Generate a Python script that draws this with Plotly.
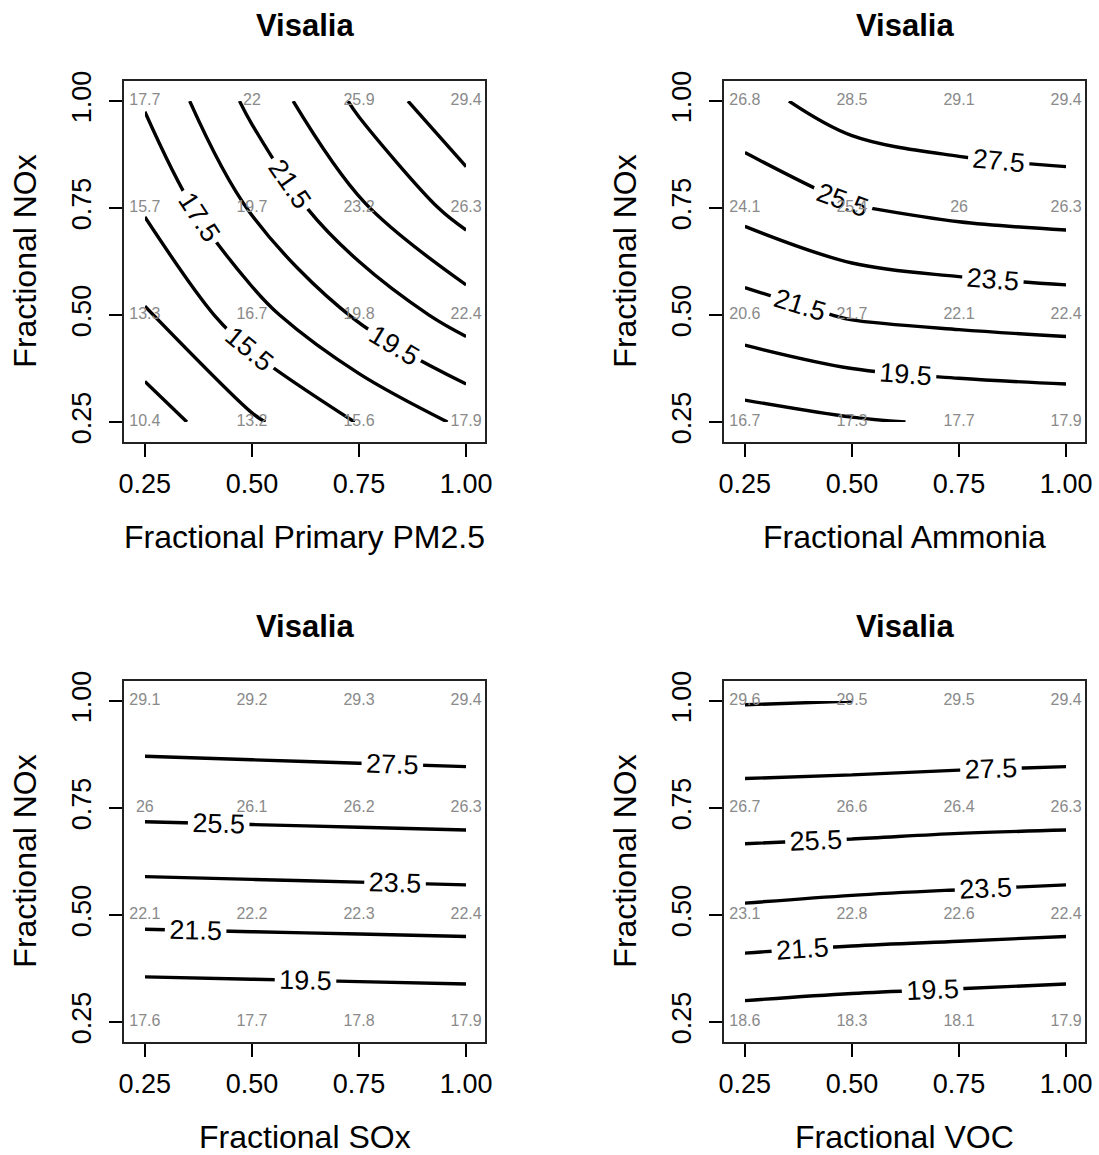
import plotly.graph_objects as go

# Emission-reduction fractions on each axis
fractions = [0.25, 0.50, 0.75, 1.00]
tick_labels = ["0.25", "0.50", "0.75", "1.00"]

city = "Visalia"
y_label = "Fractional NOx"

# PM2.5 design values; rows are NOx fraction 0.25 -> 1.00, columns the x-axis fraction
pm_primary = [
    [10.4, 13.2, 15.6, 17.9],
    [13.3, 16.7, 19.8, 22.4],
    [15.7, 19.7, 23.2, 26.3],
    [17.7, 22.0, 25.9, 29.4],
]
pm_ammonia = [
    [16.7, 17.3, 17.7, 17.9],
    [20.6, 21.7, 22.1, 22.4],
    [24.1, 25.4, 26.0, 26.3],
    [26.8, 28.5, 29.1, 29.4],
]
pm_sox = [
    [17.6, 17.7, 17.8, 17.9],
    [22.1, 22.2, 22.3, 22.4],
    [26.0, 26.1, 26.2, 26.3],
    [29.1, 29.2, 29.3, 29.4],
]
pm_voc = [
    [18.6, 18.3, 18.1, 17.9],
    [23.1, 22.8, 22.6, 22.4],
    [26.7, 26.6, 26.4, 26.3],
    [29.6, 29.5, 29.5, 29.4],
]

x_labels = [
    "Fractional Primary PM2.5",
    "Fractional Ammonia",
    "Fractional SOx",
    "Fractional VOC",
]
panels = [pm_primary, pm_ammonia, pm_sox, pm_voc]

# contour levels
level_start, level_end, level_step = 11.5, 29.5, 2.0

FONT = "Liberation Sans, Arial, sans-serif"
W, H = 1099, 1155

# plot boxes in pixels: (left, right, top, bottom)
boxes = [
    (124.3, 485.0, 81.0, 441.7),
    (724.3, 1085.0, 81.0, 441.7),
    (124.3, 485.0, 681.0, 1041.7),
    (724.3, 1085.0, 681.0, 1041.7),
]
x_range = [0.202, 1.044]
y_range = [0.204, 1.047]

fig = go.Figure()
annotations = []

for i, (z, xl, box) in enumerate(zip(panels, x_labels, boxes)):
    n = i + 1
    xa = "x" if n == 1 else f"x{n}"
    ya = "y" if n == 1 else f"y{n}"
    left, right, top, bottom = box

    # value printed at every grid node
    gx, gy, gt = [], [], []
    for r, yv in enumerate(fractions):
        for c, xv in enumerate(fractions):
            gx.append(xv)
            gy.append(yv)
            gt.append(f"{z[r][c]:g}")
    fig.add_trace(go.Scatter(
        x=gx, y=gy, text=gt, mode="text",
        textfont=dict(family=FONT, size=16, color="#8a8a8a"),
        textposition="middle center",
        hoverinfo="skip", showlegend=False,
        xaxis=xa, yaxis=ya,
    ))

    fig.add_trace(go.Contour(
        x=fractions, y=fractions, z=z,
        contours=dict(
            start=level_start, end=level_end, size=level_step,
            coloring="lines", showlabels=True,
            labelfont=dict(family=FONT, size=27, color="black"),
            labelformat=".1f",
        ),
        colorscale=[[0, "black"], [1, "black"]],
        line=dict(width=3.4, smoothing=1.0),
        showscale=False, hoverinfo="skip",
        xaxis=xa, yaxis=ya,
    ))

    axis_common = dict(
        tickmode="array", tickvals=fractions, ticktext=tick_labels,
        ticks="outside", ticklen=13, tickwidth=2, tickcolor="black",
        showline=True, mirror=True, linecolor="#222", linewidth=2,
        showgrid=False, zeroline=False, automargin=False,
        tickfont=dict(family=FONT, size=27, color="black"),
    )
    fig.update_layout({
        ("xaxis" if n == 1 else f"xaxis{n}"): dict(
            axis_common, domain=[left / W, right / W], range=x_range,
            anchor=ya, ticklabelstandoff=4,
        ),
        ("yaxis" if n == 1 else f"yaxis{n}"): dict(
            axis_common, domain=[1 - bottom / H, 1 - top / H], range=y_range,
            anchor=xa, tickangle=-90, ticklabelstandoff=8,
        ),
    })

    cx = (left + right) / 2
    cy = (top + bottom) / 2
    annotations.append(dict(
        text=f"<b>{city}</b>", x=cx / W, y=1 - (top - 55) / H,
        xref="paper", yref="paper", xanchor="center", yanchor="middle",
        showarrow=False, font=dict(family=FONT, size=31, color="black"),
    ))
    annotations.append(dict(
        text=xl, x=cx / W, y=1 - (bottom + 95) / H,
        xref="paper", yref="paper", xanchor="center", yanchor="middle",
        showarrow=False, font=dict(family=FONT, size=32, color="black"),
    ))
    annotations.append(dict(
        text=y_label, x=(left - 99) / W, y=1 - cy / H, textangle=-90,
        xref="paper", yref="paper", xanchor="center", yanchor="middle",
        showarrow=False, font=dict(family=FONT, size=32, color="black"),
    ))

fig.update_layout(
    width=W, height=H,
    margin=dict(l=0, r=0, t=0, b=0, autoexpand=False),
    paper_bgcolor="white", plot_bgcolor="white",
    showlegend=False,
    annotations=annotations,
)

fig.write_html("out.html")
